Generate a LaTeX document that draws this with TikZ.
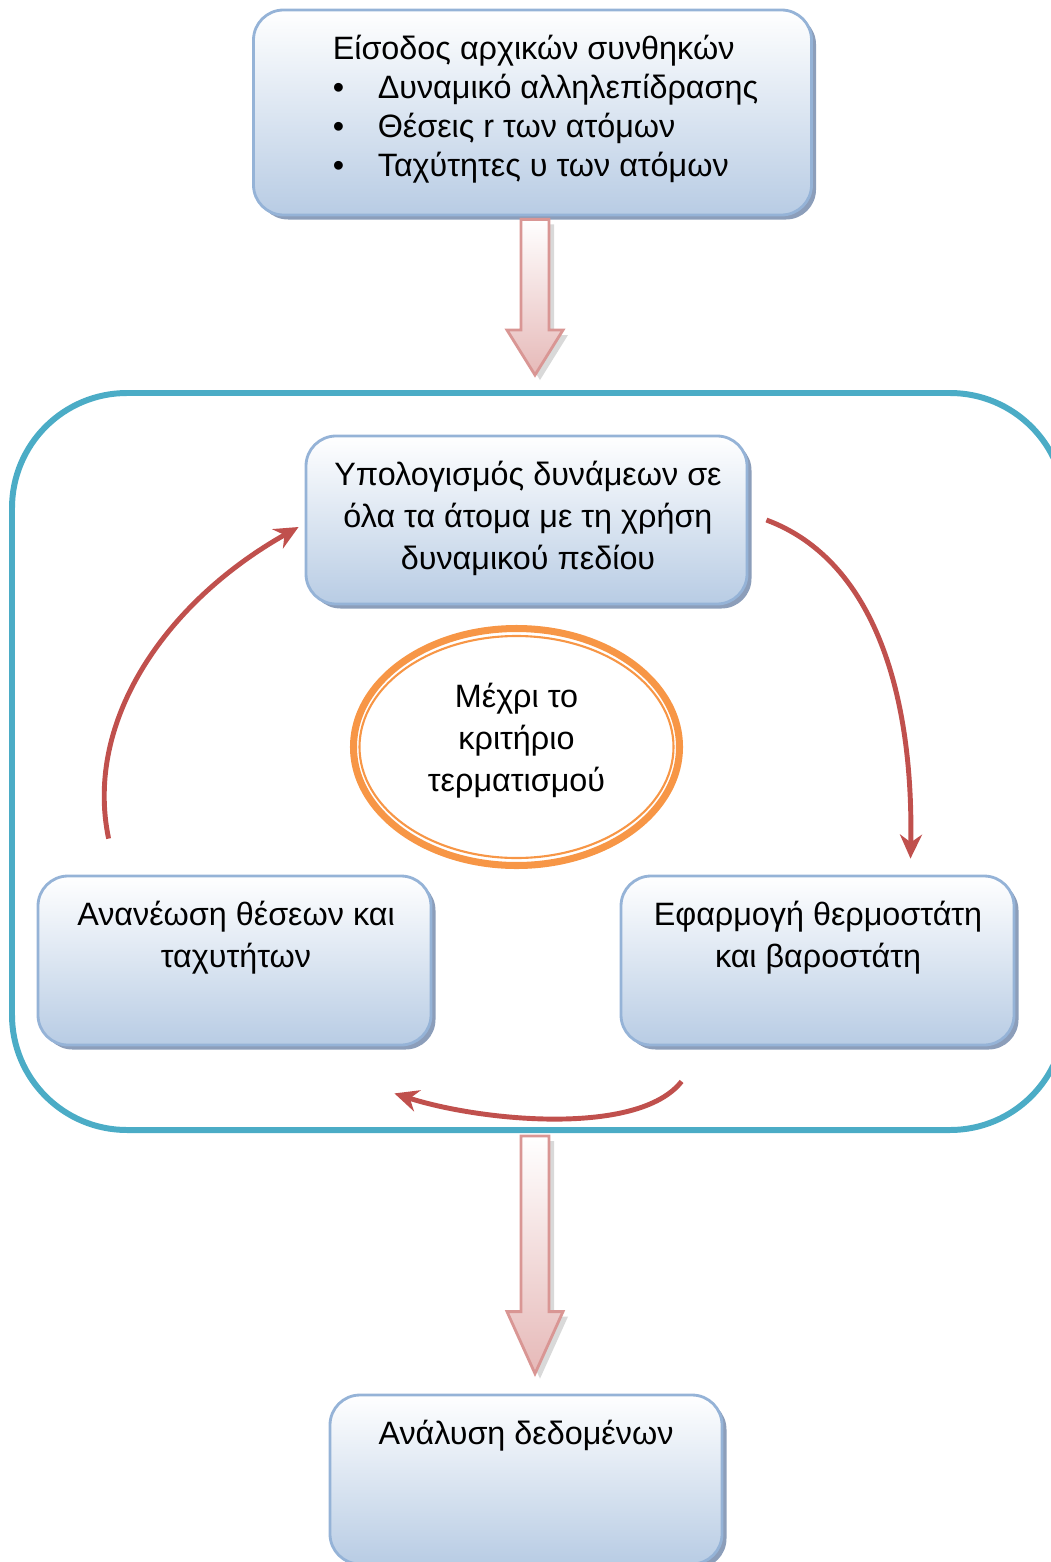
\documentclass[tikz,border=0pt]{standalone}
\usepackage{fontspec}
\setmainfont{Liberation Sans}
\usetikzlibrary{calc}
\usetikzlibrary{positioning}
\usetikzlibrary{shapes.geometric}
\usetikzlibrary{shadows}
\usetikzlibrary{arrows.meta}

\definecolor{boxblue}{RGB}{184,204,228}
\definecolor{boxline}{RGB}{149,179,215}
\definecolor{boxshade}{RGB}{140,158,186}
\definecolor{arrowpink}{RGB}{230,185,184}
\definecolor{arrowline}{RGB}{217,150,148}
\definecolor{loopred}{RGB}{192,80,77}
\definecolor{loopteal}{RGB}{75,172,198}
\definecolor{critorange}{RGB}{247,150,70}

% wide pink arrow: from, tip, head length
\newcommand{\blockarrow}[3]{%
    \path[bigarrow] let \p1=(#1), \p2=(#2) in
        (\x1-0.14cm,\y1) -- (\x1+0.14cm,\y1) -- (\x1+0.14cm,\y2+#3) -- (\x1+0.28cm,\y2+#3)
        -- (\x1,\y2) -- (\x1-0.28cm,\y2+#3) -- (\x1-0.14cm,\y2+#3) -- cycle;}

\begin{document}
\begin{tikzpicture}[
        box/.style={rectangle, rounded corners=0.3cm, draw=boxline, line width=0.8pt,
            top color=white, bottom color=boxblue,
            drop shadow={shadow xshift=0.45mm, shadow yshift=-0.45mm, fill=boxshade, opacity=1}},
        boxtext/.style={anchor=base, align=center, inner sep=0pt, font=\fontsize{9.2}{11.95}\selectfont},
        bigarrow/.style={draw=arrowline, line width=0.8pt, top color=white, bottom color=arrowpink,
            drop shadow={shadow xshift=0.5mm, shadow yshift=-0.5mm, fill=black!25, opacity=0.6}},
        looparrow/.style={draw=loopred, line width=1.4pt, -{Stealth[length=2.4mm, width=2.2mm]}},
        loopframe/.style={rectangle, draw=loopteal, line width=1.7pt, rounded corners=1.15cm},
        crit/.style={ellipse, draw=critorange, line width=2pt}
    ]
        \useasboundingbox (0,0) rectangle (10.51,-15.62);

        % input (base anchor = last line)
        \node[box, minimum width=5.58cm, minimum height=2.05cm] (input) at (5.325,-1.125) {};
        \node[boxtext, anchor=base west, align=left, font=\fontsize{9.2}{11.1}\selectfont] (inputtext)
            at ([xshift=0.80cm, yshift=-1.68cm]input.north west)
            {Είσοδος αρχικών συνθηκών\\
             \makebox[0.45cm][l]{•}Δυναμικό αλληλεπίδρασης\\
             \makebox[0.45cm][l]{•}Θέσεις r των ατόμων\\
             \makebox[0.45cm][l]{•}Ταχύτητες υ των ατόμων};

        % the loop
        \node[loopframe, minimum width=10.53cm, minimum height=7.37cm] (loop) at (5.385,-7.615) {};

        \node[box, minimum width=4.41cm, minimum height=1.68cm] (forces) at (5.265,-5.20) {};
        \node[boxtext] (forcestext) at ([xshift=0.015cm, yshift=-1.35cm]forces.north)
            {Υπολογισμός δυνάμεων σε\\όλα τα άτομα με τη χρήση\\δυναμικού πεδίου};

        \node[box, minimum width=3.93cm, minimum height=1.69cm] (update) at (2.345,-9.605) {};
        \node[boxtext] (updatetext) at ([xshift=0.015cm, yshift=-0.93cm]update.north)
            {Ανανέωση θέσεων και\\ταχυτήτων};

        \node[box, minimum width=3.93cm, minimum height=1.69cm] (thermo) at (8.175,-9.605) {};
        \node[boxtext] (thermotext) at ([xshift=0.005cm, yshift=-0.93cm]thermo.north)
            {Εφαρμογή θερμοστάτη\\και βαροστάτη};

        \node[crit, minimum width=3.26cm, minimum height=2.37cm] (crit) at (5.165,-7.47) {};
        \draw[critorange, line width=0.6pt] (crit.center) ellipse [x radius=1.57cm, y radius=1.11cm];
        \node[boxtext, anchor=center] (crittext) at ([yshift=0.06cm]crit.center)
            {Μέχρι το\\κριτήριο\\τερματισμού};

        \draw[looparrow] ([xshift=0.18cm]forces.east)
            .. controls +(1.1,-0.41) and +(0.03,1.6) .. ([xshift=0.93cm, yshift=0.16cm]thermo.north);
        \draw[looparrow] ([xshift=0.62cm, yshift=-0.35cm]thermo.south west)
            .. controls +(-0.43,-0.55) and +(0.87,-0.28) .. ([xshift=-0.38cm, yshift=-0.47cm]update.south east);
        \draw[looparrow] ([xshift=0.72cm, yshift=0.36cm]update.north west)
            .. controls +(-0.25,1.2) and +(-1.3,-0.73) .. ([xshift=-0.06cm, yshift=-0.07cm]forces.west);

        % output
        \node[box, minimum width=3.92cm, minimum height=1.69cm] (analysis) at (5.26,-14.795) {};
        \node[boxtext] (analysistext) at ([yshift=-0.51cm]analysis.north) {Ανάλυση δεδομένων};

        \blockarrow{[xshift=0.025cm, yshift=-0.03cm]input.south}{[yshift=0.15cm]loop.north}{0.45cm}
        \blockarrow{[xshift=-0.035cm, yshift=-0.03cm]loop.south}{[yshift=0.2cm]analysis.north}{0.62cm}
    \end{tikzpicture}
\end{document}
